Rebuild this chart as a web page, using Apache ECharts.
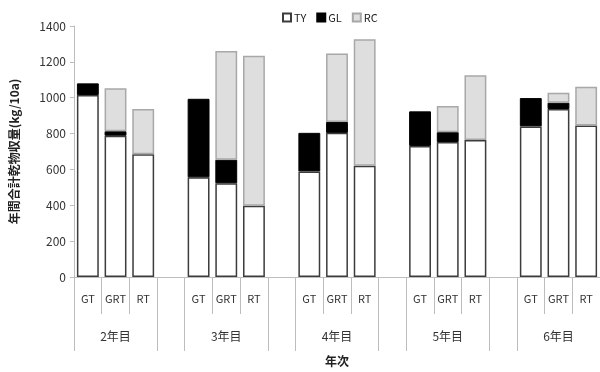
<!DOCTYPE html>
<html>
<head>
<meta charset="utf-8">
<script src="https://cdn.jsdelivr.net/npm/echarts@6/dist/echarts.min.js"></script>
<style>
  html, body { margin: 0; padding: 0; background: #fff; }
  #chart { width: 600px; height: 372px; }
</style>
</head>
<body>
<div id="chart"></div>
<script>
// Treatments per year; empty slots separate the year groups
const treatments = ['GT', 'GRT', 'RT'];
const years = ['2年目', '3年目', '4年目', '5年目', '6年目'];

// Annual dry-matter yield (kg/10a) by component, per year: GT, GRT, RT
const tyValues = [
  [1015, 788, 685],
  [556, 523, 398],
  [589, 804, 620],
  [731, 753, 764],
  [840, 937, 845]
];
const glValues = [
  [65, 25, null],
  [438, 131, null],
  [215, 61, null],
  [193, 55, null],
  [158, 35, null]
];
const rcValues = [
  [null, 240, 252],
  [null, 607, 836],
  [null, 381, 706],
  [null, 146, 361],
  [null, 56, 216]
];

const yTicks = { min: 0, max: 1400, interval: 200 };

// Flatten into one category row with a blank slot between year groups
const categories = [];
const groupBounds = [];
const groupCenters = [];
const flat = { TY: [], GL: [], RC: [] };
years.forEach((y, gi) => {
  if (gi > 0) { categories.push(''); flat.TY.push(null); flat.GL.push(null); flat.RC.push(null); }
  const start = categories.length;
  treatments.forEach((t, ti) => {
    categories.push(t);
    flat.TY.push(tyValues[gi][ti]);
    flat.GL.push(glValues[gi][ti]);
    flat.RC.push(rcValues[gi][ti]);
  });
  groupBounds.push(start, start + 3);
  groupCenters.push(start + 1.5);
});
const nCat = categories.length;

const FONT = '"Noto Sans CJK JP", "Noto Sans", sans-serif';
const axisGray = '#bdbdbd';

const chart = echarts.init(document.getElementById('chart'), null, { renderer: 'canvas' });

const barCommon = { type: 'bar', stack: 'total', barCategoryGap: '21%', xAxisIndex: 0 };

chart.setOption({
  animation: false,
  textStyle: { fontFamily: FONT },
  legend: {
    top: 7,
    left: 277,
    itemWidth: 8,
    itemHeight: 8,
    itemGap: 10,
    icon: 'rect',
    textStyle: { fontFamily: FONT, fontSize: 11, color: '#222', padding: [0, 0, 0, -2] },
    data: ['TY', 'GL', 'RC']
  },
  grid: { left: 74, top: 26, width: 528, height: 252 },
  xAxis: [
    {
      type: 'category',
      position: 'bottom',
      data: categories,
      axisLine: { show: true, lineStyle: { color: axisGray, width: 1 } },
      axisTick: { show: true, interval: 0, length: 37, lineStyle: { color: axisGray } },
      axisLabel: { interval: 0, margin: 16, fontSize: 11, color: '#333', fontFamily: FONT }
    },
    {
      type: 'value',
      position: 'bottom',
      min: 0,
      max: nCat,
      axisLine: { show: false },
      splitLine: { show: false },
      axisTick: { show: true, length: 74, customValues: groupBounds, lineStyle: { color: axisGray } },
      axisLabel: {
        show: true,
        margin: 53,
        fontSize: 12,
        color: '#333',
        fontFamily: FONT,
        customValues: groupCenters,
        formatter: (v) => {
          const i = groupCenters.indexOf(v);
          return i >= 0 ? years[i] : '';
        }
      },
      name: '年次',
      nameLocation: 'middle',
      nameGap: 78,
      nameTextStyle: { fontFamily: FONT, fontSize: 12, fontWeight: 'bold', color: '#222' }
    }
  ],
  yAxis: {
    type: 'value',
    min: yTicks.min,
    max: yTicks.max,
    interval: yTicks.interval,
    axisLine: { show: true, lineStyle: { color: axisGray } },
    axisTick: { show: true, length: 4, lineStyle: { color: axisGray } },
    splitLine: { show: false },
    axisLabel: { margin: 8, fontSize: 12, color: '#333', fontFamily: FONT, formatter: (v) => String(v) },
    name: '年間合計乾物収量(kg/10a)',
    nameLocation: 'middle',
    nameGap: 54,
    nameRotate: 90,
    nameTextStyle: { fontFamily: FONT, fontSize: 12, fontWeight: 'bold', color: '#222' }
  },
  series: [
    Object.assign({}, barCommon, {
      name: 'TY',
      data: flat.TY,
      itemStyle: { color: '#ffffff', borderColor: '#3c3c3c', borderWidth: 1.5 }
    }),
    Object.assign({}, barCommon, {
      name: 'GL',
      data: flat.GL,
      itemStyle: { color: '#000000', borderColor: '#000000', borderWidth: 1 }
    }),
    Object.assign({}, barCommon, {
      name: 'RC',
      data: flat.RC,
      itemStyle: { color: '#dedede', borderColor: '#a8a8a8', borderWidth: 1.5 }
    })
  ]
});
</script>
</body>
</html>
